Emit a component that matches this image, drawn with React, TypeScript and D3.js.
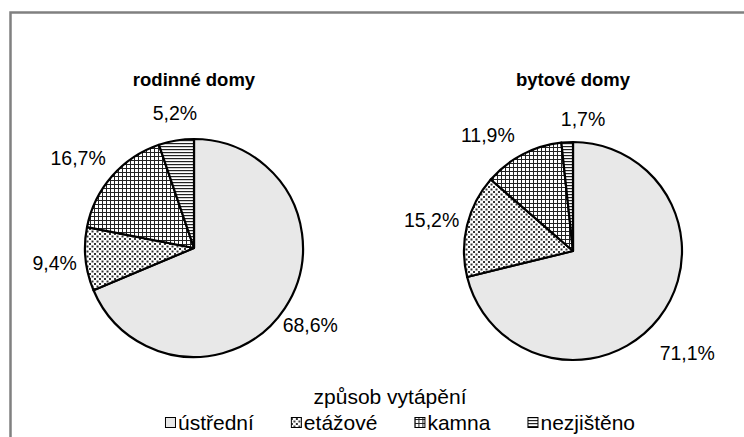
import React, { useEffect, useRef } from "react";
import * as d3 from "d3";

// způsob vytápění - rodinné vs bytové domy
const categories = ["ústřední", "etážové", "kamna", "nezjištěno"];
const rodinneDomy = [68.6, 9.4, 16.7, 5.2];
const bytoveDomy = [71.1, 15.2, 11.9, 1.7];
const pieTitles = ["rodinné domy", "bytové domy"];
const legendTitle = "způsob vytápění";

const W = 744;
const H = 437;
const FONT = "'Liberation Sans', Arial, sans-serif";

const App = () => {
  const svgRef = useRef<SVGSVGElement>(null);

  useEffect(() => {
    const svg = d3.select(svgRef.current).attr("width", W).attr("height", H);
    svg.selectAll("*").remove();

    const defs = svg.append("defs");
    // dotted
    const pDots = defs
      .append("pattern")
      .attr("id", "p-dots")
      .attr("patternUnits", "userSpaceOnUse")
      .attr("width", 5)
      .attr("height", 5);
    pDots.append("rect").attr("width", 5).attr("height", 5).attr("fill", "#fff");
    pDots.append("rect").attr("x", 0).attr("y", 0).attr("width", 2).attr("height", 2).attr("fill", "#333");
    pDots.append("rect").attr("x", 2.5).attr("y", 2.5).attr("width", 2).attr("height", 2).attr("fill", "#333");
    // grid
    const pGrid = defs
      .append("pattern")
      .attr("id", "p-grid")
      .attr("patternUnits", "userSpaceOnUse")
      .attr("width", 4)
      .attr("height", 4);
    pGrid.append("rect").attr("width", 4).attr("height", 4).attr("fill", "#fff");
    pGrid.append("rect").attr("width", 4).attr("height", 1).attr("fill", "#222");
    pGrid.append("rect").attr("width", 1).attr("height", 4).attr("fill", "#222");
    // horizontal lines
    const pHor = defs
      .append("pattern")
      .attr("id", "p-hor")
      .attr("patternUnits", "userSpaceOnUse")
      .attr("width", 4)
      .attr("height", 3);
    pHor.append("rect").attr("width", 4).attr("height", 3).attr("fill", "#fff");
    pHor.append("rect").attr("width", 4).attr("height", 1.2).attr("fill", "#222");

    const fills = ["#e8e8e8", "url(#p-dots)", "url(#p-grid)", "url(#p-hor)"];

    svg.append("rect").attr("width", W).attr("height", H).attr("fill", "#fff");
    svg
      .append("rect")
      .attr("x", 10.5)
      .attr("y", 12.5)
      .attr("width", W + 20)
      .attr("height", H + 20)
      .attr("fill", "none")
      .attr("stroke", "#808080")
      .attr("stroke-width", 2.5);

    const r = 109;
    // label nudges (px) relative to the outer label arc centroid
    const pies = [
      { data: rodinneDomy, cx: 194, cy: 248, nudge: [[8, 5], [-10, 2], [-18, -4], [2, -7]] },
      { data: bytoveDomy, cx: 573, cy: 251, nudge: [[12, 22], [-15, 0], [-25, -1], [17, -2]] },
    ];

    const pie = d3.pie<number>().sort(null).value((d) => d);
    const arc = d3.arc<d3.PieArcDatum<number>>().innerRadius(0).outerRadius(r);
    const labelArc = d3.arc<d3.PieArcDatum<number>>().innerRadius(130).outerRadius(130);

    pies.forEach((p, pi) => {
      const g = svg.append("g").attr("transform", `translate(${p.cx},${p.cy})`);
      const arcs = pie(p.data);
      g.selectAll("path")
        .data(arcs)
        .join("path")
        .attr("d", arc)
        .attr("fill", (d, i) => fills[i])
        .attr("stroke", "#000")
        .attr("stroke-width", 2.2)
        .attr("stroke-linejoin", "round");

      g.selectAll("text.lbl")
        .data(arcs)
        .join("text")
        .attr("class", "lbl")
        .attr("x", (d, i) => labelArc.centroid(d)[0] + p.nudge[i][0])
        .attr("y", (d, i) => labelArc.centroid(d)[1] + p.nudge[i][1])
        .attr("dy", "0.35em")
        .attr("text-anchor", "middle")
        .attr("font-family", FONT)
        .attr("font-size", 19.5)
        .text((d) => d3.format(".1f")(d.data).replace(".", ",") + "%");

      svg
        .append("text")
        .attr("x", p.cx)
        .attr("y", 86)
        .attr("text-anchor", "middle")
        .attr("font-family", FONT)
        .attr("font-weight", "bold")
        .attr("font-size", 18.5)
        .text(pieTitles[pi]);
    });

    // legend
    svg
      .append("text")
      .attr("x", 390)
      .attr("y", 404)
      .attr("text-anchor", "middle")
      .attr("font-family", FONT)
      .attr("font-size", 21)
      .text(legendTitle);

    const lg = svg.append("g").attr("transform", "translate(0,423)");
    const gap = 37;
    const items = categories.map((c, i) => {
      const item = lg.append("g");
      item
        .append("rect")
        .attr("x", 0.5)
        .attr("y", -5.5)
        .attr("width", 10)
        .attr("height", 10)
        .attr("fill", fills[i])
        .attr("stroke", "#000")
        .attr("stroke-width", 1);
      const t = item
        .append("text")
        .attr("x", 13)
        .attr("y", 0)
        .attr("dy", "0.35em")
        .attr("font-family", FONT)
        .attr("font-size", 21)
        .text(c);
      return { item, w: 13 + (t.node() as SVGTextElement).getComputedTextLength() };
    });
    const total = d3.sum(items, (d) => d.w) + gap * (items.length - 1);
    let x = 400 - total / 2;
    items.forEach((d) => {
      d.item.attr("transform", `translate(${x},0)`);
      x += d.w + gap;
    });
  }, []);

  return <svg ref={svgRef} style={{ position: "absolute", left: 0, top: 0 }}></svg>;
};

export default App;
